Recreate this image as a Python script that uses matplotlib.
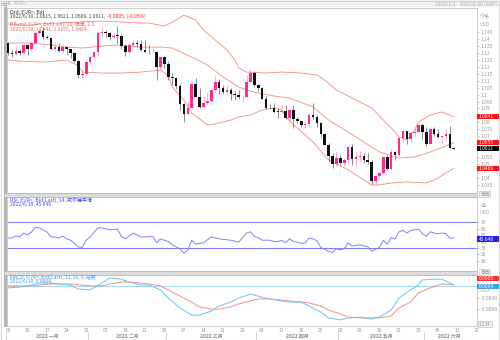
import matplotlib
matplotlib.use("Agg")
import matplotlib.pyplot as plt
import matplotlib.transforms as mtransforms
from matplotlib.patches import Rectangle
import numpy as np

plt.rcParams['font.family'] = ['Noto Sans CJK SC', 'DejaVu Sans']

# EUR= daily candles, weekdays 2022-01-03 .. 2022-06-10
opens = [1.1370, 1.1297, 1.1289, 1.1312, 1.1296,
         1.1359, 1.1326, 1.1368, 1.1442, 1.1455,
         1.1411, 1.1406, 1.1325, 1.1344, 1.1311,
         1.1343, 1.1325, 1.1302, 1.1241, 1.1143,
         1.1146, 1.1234, 1.1271, 1.1303, 1.1442,
         1.1453, 1.1440, 1.1416, 1.1424, 1.1424,
         1.1350, 1.1307, 1.1357, 1.1374, 1.1361,
         1.1322, 1.1307, 1.1307, 1.1308, 1.1197,
         1.1270, 1.1219, 1.1124, 1.1121, 1.1063,
         1.0929, 1.0857, 1.0901, 1.1077, 1.0985,
         1.0912, 1.0942, 1.0955, 1.1036, 1.1093,
         1.1050, 1.1016, 1.1030, 1.1006, 1.0998,
         1.0983, 1.0985, 1.1090, 1.1158, 1.1067,
         1.1045, 1.0970, 1.0904, 1.0904, 1.0877,
         1.0876, 1.0885, 1.0829, 1.0889, 1.0825,
         1.0807, 1.0780, 1.0787, 1.0853, 1.0837,
         1.0797, 1.0714, 1.0640, 1.0557, 1.0498,
         1.0545, 1.0508, 1.0526, 1.0620, 1.0540,
         1.0551, 1.0560, 1.0530, 1.0513, 1.0380,
         1.0411, 1.0437, 1.0553, 1.0464, 1.0586,
         1.0564, 1.0690, 1.0735, 1.0677, 1.0723,
         1.0733, 1.0779, 1.0734, 1.0647, 1.0751,
         1.0718, 1.0695, 1.0700, 1.0715, 1.0615]
highs = [1.1376, 1.1321, 1.1346, 1.1318, 1.1364,
         1.1364, 1.1375, 1.1455, 1.1482, 1.1483,
         1.1429, 1.1409, 1.1368, 1.1369, 1.1363,
         1.1346, 1.1330, 1.1307, 1.1247, 1.1175,
         1.1241, 1.1276, 1.1310, 1.1451, 1.1483,
         1.1467, 1.1447, 1.1449, 1.1495, 1.1438,
         1.1363, 1.1366, 1.1395, 1.1396, 1.1390,
         1.1395, 1.1359, 1.1344, 1.1316, 1.1274,
         1.1277, 1.1243, 1.1155, 1.1125, 1.1076,
         1.0941, 1.0952, 1.1087, 1.1121, 1.1044,
         1.0983, 1.1016, 1.1041, 1.1137, 1.1109,
         1.1067, 1.1071, 1.1045, 1.1025, 1.1034,
         1.0998, 1.1138, 1.1185, 1.1172, 1.1076,
         1.1053, 1.0990, 1.0935, 1.0937, 1.0902,
         1.0933, 1.0926, 1.0899, 1.0923, 1.0837,
         1.0812, 1.0812, 1.0866, 1.0936, 1.0851,
         1.0802, 1.0727, 1.0654, 1.0577, 1.0593,
         1.0564, 1.0542, 1.0630, 1.0641, 1.0584,
         1.0592, 1.0579, 1.0577, 1.0533, 1.0420,
         1.0443, 1.0553, 1.0566, 1.0607, 1.0594,
         1.0697, 1.0749, 1.0738, 1.0738, 1.0765,
         1.0787, 1.0787, 1.0765, 1.0752, 1.0764,
         1.0752, 1.0710, 1.0749, 1.0774, 1.0621]
lows = [1.1283, 1.1272, 1.1285, 1.1285, 1.1290,
        1.1285, 1.1315, 1.1364, 1.1437, 1.1399,
        1.1397, 1.1324, 1.1315, 1.1305, 1.1301,
        1.1282, 1.1263, 1.1234, 1.1121, 1.1121,
        1.1140, 1.1215, 1.1255, 1.1275, 1.1412,
        1.1414, 1.1394, 1.1405, 1.1373, 1.1331,
        1.1280, 1.1302, 1.1343, 1.1343, 1.1314,
        1.1305, 1.1289, 1.1303, 1.1106, 1.1175,
        1.1190, 1.1104, 1.1066, 1.1038, 1.0892,
        1.0806, 1.0853, 1.0900, 1.0985, 1.0905,
        1.0906, 1.0931, 1.0950, 1.1021, 1.1003,
        1.1003, 1.1005, 1.0963, 1.0964, 1.0965,
        1.0945, 1.0982, 1.1085, 1.1057, 1.1029,
        1.0969, 1.0899, 1.0898, 1.0868, 1.0835,
        1.0869, 1.0822, 1.0806, 1.0758, 1.0794,
        1.0770, 1.0757, 1.0768, 1.0822, 1.0764,
        1.0697, 1.0634, 1.0514, 1.0470, 1.0484,
        1.0490, 1.0492, 1.0504, 1.0493, 1.0485,
        1.0518, 1.0509, 1.0502, 1.0354, 1.0349,
        1.0389, 1.0427, 1.0461, 1.0459, 1.0532,
        1.0556, 1.0662, 1.0641, 1.0660, 1.0700,
        1.0732, 1.0682, 1.0627, 1.0643, 1.0702,
        1.0690, 1.0653, 1.0678, 1.0614, 1.0609]
closes = [1.1297, 1.1289, 1.1312, 1.1296, 1.1359,
          1.1326, 1.1368, 1.1442, 1.1455, 1.1411,
          1.1406, 1.1325, 1.1344, 1.1311, 1.1343,
          1.1325, 1.1302, 1.1241, 1.1143, 1.1146,
          1.1234, 1.1271, 1.1303, 1.1442, 1.1453,
          1.1440, 1.1416, 1.1424, 1.1424, 1.1350,
          1.1307, 1.1357, 1.1374, 1.1361, 1.1322,
          1.1307, 1.1307, 1.1308, 1.1197, 1.1270,
          1.1219, 1.1124, 1.1121, 1.1063, 1.0929,
          1.0857, 1.0901, 1.1077, 1.0985, 1.0912,
          1.0942, 1.0955, 1.1036, 1.1093, 1.1050,
          1.1016, 1.1030, 1.1006, 1.0998, 1.0983,
          1.0985, 1.1090, 1.1158, 1.1067, 1.1045,
          1.0970, 1.0904, 1.0904, 1.0877, 1.0876,
          1.0885, 1.0829, 1.0889, 1.0825, 1.0807,
          1.0780, 1.0787, 1.0853, 1.0837, 1.0797,
          1.0714, 1.0640, 1.0557, 1.0498, 1.0545,
          1.0508, 1.0526, 1.0620, 1.0540, 1.0551,
          1.0560, 1.0530, 1.0513, 1.0380, 1.0411,
          1.0437, 1.0553, 1.0464, 1.0586, 1.0564,
          1.0690, 1.0735, 1.0677, 1.0723, 1.0733,
          1.0779, 1.0734, 1.0647, 1.0751, 1.0718,
          1.0695, 1.0700, 1.0715, 1.0616, 1.0611]

# Bollinger band (20, 2.0): (day index, price)
bb_up_day = [0, 3, 6, 8, 13, 18, 24, 29, 34, 36, 40, 43, 45, 48, 50, 53, 56, 58, 59,
             61, 66, 70, 75, 79, 81, 84, 89, 93, 96, 98, 100, 102, 104, 105, 108, 111, 114]
bb_upper = [1.1508, 1.1500, 1.1500, 1.1508, 1.1515, 1.1522, 1.1529, 1.1522, 1.1515, 1.1515,
            1.1493, 1.1536, 1.1572, 1.1536, 1.1464, 1.1392, 1.1321, 1.1249, 1.1191,
            1.1162, 1.1155, 1.1162, 1.1155, 1.1141, 1.1105, 1.1033, 1.0961, 1.0904,
            1.0817, 1.0760, 1.0695, 1.0673, 1.0745, 1.0803, 1.0853, 1.0875, 1.0841]
bb_mid_day = [0, 6, 11, 15, 19, 24, 28, 34, 39, 42, 47, 51, 55, 59, 61, 64, 68, 72, 78,
              82, 87, 91, 95, 99, 100, 104, 108, 112, 114]
bb_mid = [1.1371, 1.1371, 1.1357, 1.1342, 1.1335, 1.1349, 1.1357, 1.1342, 1.1342, 1.1335,
          1.1270, 1.1213, 1.1126, 1.1055, 1.1033, 1.1011, 1.0990, 1.0975, 1.0911,
          1.0817, 1.0731, 1.0659, 1.0587, 1.0551, 1.0544, 1.0551, 1.0587, 1.0630, 1.0655]
bb_lo_day = [0, 3, 9, 15, 18, 19, 24, 29, 34, 39, 41, 42, 45, 47, 51, 53, 57, 59, 62, 65,
             68, 70, 72, 78, 82, 87, 91, 93, 95, 98, 102, 107, 110, 112, 114]
bb_lower = [1.1249, 1.1241, 1.1234, 1.1249, 1.1206, 1.1162, 1.1155, 1.1155, 1.1162, 1.1177,
            1.1134, 1.1055, 1.0961, 1.0868, 1.0781, 1.0789, 1.0817, 1.0839, 1.0853, 1.0889,
            1.0904, 1.0889, 1.0810, 1.0659, 1.0530, 1.0458, 1.0386, 1.0350, 1.0350,
            1.0364, 1.0372, 1.0364, 1.0400, 1.0436, 1.0469]

# RSI(14)
rsi_day = [0, 1, 2, 3, 4, 5, 6, 7, 8, 10, 11, 12, 13, 14, 15, 16, 18, 19, 20, 21, 23, 24,
           26, 28, 29, 30, 32, 34, 35, 37, 38, 39, 41, 42, 44, 45, 46, 47, 48, 50, 52, 54,
           57, 59, 61, 62, 63, 64, 65, 66, 67, 68, 69, 70, 71, 72, 73, 74, 75, 76, 77, 78,
           79, 80, 81, 82, 83, 84, 85, 86, 87, 88, 89, 90, 91, 92, 93, 94, 95, 96, 97, 98,
           99, 100, 101, 102, 103, 104, 105, 106, 107, 108, 109, 110, 111, 112, 113, 114]
rsi_val = [45.4, 45.4, 48.5, 47, 53, 50, 54.6, 62, 61, 54.6, 47, 47, 45.4, 48.5, 44, 42,
           31.5, 31, 42, 47, 61, 61, 58, 59, 48, 44, 53, 47, 47, 48, 38, 44, 40, 35, 28.5,
           22, 27, 42, 36, 38, 47, 44, 42, 39, 53, 55, 48, 46, 42, 42, 42, 40, 40, 42, 38,
           44, 40, 39, 37, 38, 45, 44, 41, 31, 28, 25, 23, 29, 27, 29, 38, 33, 34, 35, 33,
           32, 25, 28, 31, 42, 36, 46, 44, 55, 57, 53, 57, 58, 59, 52, 48, 55, 53, 52, 53,
           52, 45, 45.64]

# MACD(12, 26, 9)
macd_day = [0, 3, 6, 8, 11, 13, 16, 18, 21, 24, 26, 29, 31, 34, 36, 39, 41, 44, 47, 49,
            52, 54, 57, 59, 62, 64, 67, 70, 72, 75, 77, 80, 82, 85, 87, 90, 93, 95, 98, 100,
            103, 105, 106, 109, 111, 113, 114]
macd_val = [-0.0006, -0.0003, 0.0004, 0.0011, 0.0011, 0.0008, 0.0004, -0.0010, -0.0013, 0.0011,
            0.0029, 0.0025, 0.0015, 0.0004, 0.0004, -0.0013, -0.0042, -0.0077, -0.0102, -0.0102,
            -0.0088, -0.0070, -0.0056, -0.0042, -0.0028, -0.0035, -0.0045, -0.0052, -0.0056, -0.0056,
            -0.0070, -0.0091, -0.0112, -0.0119, -0.0112, -0.0109, -0.0116, -0.0109, -0.0084, -0.0042,
            -0.0013, 0.0004, 0.0022, 0.0025, 0.0025, 0.0012, 0.0004]
sig_day = [0, 6, 11, 16, 21, 24, 26, 29, 31, 34, 36, 39, 41, 44, 47, 49, 52, 54, 57, 59,
           62, 64, 67, 70, 72, 75, 77, 80, 82, 85, 87, 90, 93, 95, 98, 100, 103, 105, 108,
           111, 114]
sig_val = [0.0001, 0.0001, 0.0008, 0.0008, 0.0001, 0.0001, 0.0008, 0.0015, 0.0015, 0.0011,
           0.0008, 0.0001, -0.0013, -0.0035, -0.0056, -0.0073, -0.0081, -0.0081, -0.0073, -0.0063,
           -0.0052, -0.0045, -0.0045, -0.0049, -0.0052, -0.0056, -0.0059, -0.0070, -0.0084, -0.0098,
           -0.0109, -0.0112, -0.0112, -0.0112, -0.0105, -0.0077, -0.0056, -0.0024, -0.0006,
           0.0008, 0.0005]

# x axis: Mondays (day index) and months
week_days = [0, 5, 10, 15, 20, 25, 30, 35, 40, 45, 50, 55, 60, 65, 70, 75, 80, 85, 90,
             95, 100, 105, 110, 115, 120]
week_labels = ['03', '10', '17', '24', '31', '07', '14', '21', '28', '07', '14', '21', '28',
               '04', '11', '18', '25', '02', '09', '16', '23', '30', '06', '13', '20']
month_start = [0, 21, 41, 64, 85, 107]
month_labels = ['2022 一月', '2022 二月', '2022 三月', '2022 四月', '2022 五月', '2022 六月']

# price labels left visible (the rest sit under the value tags)
price_ticks = [1.035, 1.04, 1.05, 1.055, 1.07, 1.075, 1.08, 1.09,
               1.095, 1.1, 1.105, 1.11, 1.115, 1.12, 1.125, 1.13, 1.135, 1.14, 1.145]
rsi_ticks = [10, 20, 30, 40, 50, 60, 70]
macd_ticks = [-0.008, -0.004]
macd_tick_labels = ['-0.0080', '-0.0040']

W, H = 500, 340
BB_C = '#f38b80'
RSI_C = '#8282f5'
MACD_C = '#6cc3f5'
SIG_C = '#f39088'
UP_C = '#ff2a8a'


def rect(x0, y0, x1, y1):
    return [x0 / W, 1 - y1 / H, (x1 - x0) / W, (y1 - y0) / H]


def fx(x):
    return x / W


def fy(y):
    return 1 - y / H


fig = plt.figure(figsize=(5, 3.4), dpi=100)
fig.patch.set_facecolor('white')

# frame bits
fig.patches.append(Rectangle((0, fy(7)), 1, 7 / H, transform=fig.transFigure,
                             facecolor='#f2f2f2', edgecolor='none', zorder=0))
fig.patches.append(Rectangle((fx(3.5), fy(327)), 3.5 / W, 320 / H, transform=fig.transFigure,
                             facecolor='#b4b4b4', edgecolor='none', zorder=0))
for y0, y1 in [(193, 197), (271, 275)]:
    fig.patches.append(Rectangle((fx(3.5), fy(y1)), (477 - 3.5) / W, (y1 - y0) / H,
                                 transform=fig.transFigure, facecolor='#dcdcdc',
                                 edgecolor='#b0b0b0', linewidth=0.4, zorder=0))
fig.patches.append(Rectangle((0.001, 0.001), 0.997, 0.997, transform=fig.transFigure,
                             facecolor='none', edgecolor='#d8d8d8', linewidth=0.8, zorder=0))

ax_p = fig.add_axes(rect(7, 8, 477, 193))
ax_r = fig.add_axes(rect(7, 197, 477, 271))
ax_m = fig.add_axes(rect(7, 275, 477, 326))

for ax in (ax_p, ax_r, ax_m):
    ax.set_xlim(-0.26, 119.95)
    ax.yaxis.tick_right()
    ax.tick_params(axis='y', labelsize=3.6, colors='#9a9a9a', length=1.5, width=0.4, pad=1)
    ax.tick_params(axis='x', length=0)
    for s in ax.spines.values():
        s.set_color('#c4c4c4')
        s.set_linewidth(0.6)
    ax.set_facecolor('white')

# --- price panel ---
ax_p.set_ylim(1.0292, 1.1623)
ax_p.set_yticks(price_ticks)
ax_p.set_yticklabels(['%g' % t for t in price_ticks])
ax_p.set_xticks([])

xs = np.arange(len(closes))
o = np.array(opens)
c = np.array(closes)
h = np.array(highs)
l = np.array(lows)
up = c > o
ax_p.vlines(xs[up], l[up], h[up], color='#ff8cc0', linewidth=0.5, zorder=2)
ax_p.vlines(xs[~up], l[~up], h[~up], color='#606060', linewidth=0.5, zorder=2)
ax_p.bar(xs, np.maximum(np.abs(c - o), 0.0003), bottom=np.minimum(o, c), width=0.66,
         color=np.where(up, UP_C, '#111111'), linewidth=0, zorder=3)

ax_p.plot(bb_up_day, bb_upper, color=BB_C, lw=0.6, zorder=1)
ax_p.plot(bb_mid_day, bb_mid, color=BB_C, lw=0.6, zorder=1)
ax_p.plot(bb_lo_day, bb_lower, color=BB_C, lw=0.6, zorder=1)

# --- RSI panel ---
ax_r.set_ylim(-5.4, 108.5)
ax_r.set_yticks(rsi_ticks)
ax_r.set_xticks([])
ax_r.axhline(70, color=RSI_C, lw=0.8)
ax_r.axhline(30, color=RSI_C, lw=0.8)
ax_r.plot(rsi_day, rsi_val, color=RSI_C, lw=0.7)

# --- MACD panel ---
ax_m.set_ylim(-0.01406, 0.00396)
ax_m.set_yticks(macd_ticks)
ax_m.set_yticklabels(macd_tick_labels)
ax_m.axhline(0, color='#a6d8f7', lw=0.8)
ax_m.plot(sig_day, sig_val, color=SIG_C, lw=0.7)
ax_m.plot(macd_day, macd_val, color=MACD_C, lw=0.7)
ax_m.set_xticks(week_days)
ax_m.set_xticklabels(week_labels)
ax_m.tick_params(axis='x', labelsize=3.6, colors='#9a9a9a', pad=1.2)

trans_m = mtransforms.blended_transform_factory(ax_m.transData, ax_m.transAxes)
month_bounds = month_start + [120]
for k, lab in enumerate(month_labels):
    lo = month_bounds[k]
    hi = min(month_bounds[k + 1], 119.95)
    ax_m.text((lo + hi) / 2 - 0.5, -0.2, lab, transform=trans_m, fontsize=3.6,
              color='#8a8a8a', ha='center', va='center', fontweight='bold')
    ax_m.vlines(lo - 0.5, -0.12, -0.27, transform=trans_m, color='#c0c0c0', lw=0.5,
                clip_on=False)


# right-side value tags
def tag(ax, val, text, fc, dy=0.0):
    ylo, yhi = ax.get_ylim()
    per_px = (yhi - ylo) / (ax.get_position().height * H)
    tr = mtransforms.blended_transform_factory(ax.transAxes, ax.transData)
    yc = val + dy * per_px
    w_ax = 23 / (ax.get_position().width * W)
    ax.add_patch(Rectangle((1.0, yc - 2.7 * per_px), w_ax, 5.4 * per_px, transform=tr,
                           facecolor=fc, edgecolor='none', clip_on=False, zorder=5))
    ax.text(1.004, yc, text, transform=tr, fontsize=3.5, color='white', va='center',
            ha='left', clip_on=False, zorder=6)


tag(ax_p, bb_upper[-1], '1.0841', '#ff1010')
tag(ax_p, bb_mid[-1], '1.0655', '#ff1010')
tag(ax_p, closes[-1], '1.0611', '#000000')
tag(ax_p, bb_lower[-1], '1.0469', '#ff1010')
tag(ax_r, rsi_val[-1], '45.640', '#2020f0', dy=-1.2)
tag(ax_m, sig_val[-1], '0.0005', '#ff3030', dy=6.5)
tag(ax_m, macd_val[-1], '0.0004', '#2fa4f0', dy=-1.5)

# axis captions / buttons
cap = dict(fontsize=3.6, color='#a8a8a8', ha='left', va='center')
fig.text(fx(480), fy(17), '价格', **cap)
fig.text(fx(480), fy(24), 'USD', **cap)
fig.text(fx(481), fy(206), '值', **cap)
fig.text(fx(480), fy(213), 'USD', **cap)
fig.text(fx(480), fy(291), 'USD', **cap)
btn = dict(fontsize=3.4, color='#909090', ha='left', va='center',
           bbox=dict(boxstyle='square,pad=0.2', fc='#f5f5f5', ec='#b8b8b8', lw=0.4))
fig.text(fx(480), fy(194), '自选', **btn)
fig.text(fx(480), fy(272), '自选', **btn)
fig.text(fx(479), fy(324), '1.234', **btn)

# header strip
fig.text(fx(2), fy(3.8), '每天', fontsize=3.6, color='#b0b0b0', va='center')
fig.text(fx(13), fy(3.8), 'EUR=', fontsize=3.6, color='#b8b8b8', va='center')
fig.text(fx(498), fy(3.8), '2022/1/3 - 2022/6/20 (GMT)', fontsize=3.6, color='#b0b0b0',
         va='center', ha='right')


# legends
def follow(prev, text, color):
    return ax_p.annotate(text, xy=(1, 0.5), xycoords=prev, xytext=(1.5, 0),
                         textcoords='offset points', fontsize=3.6, color=color,
                         va='center', ha='left', annotation_clip=False)


fig.text(fx(10), fy(12.3), 'Ord, EUR=, Bid', fontsize=3.6, color='#333333', va='center')
t = fig.text(fx(10), fy(16.7), '2022/6/10, 1.0615, 1.0621, 1.0609, 1.0611,', fontsize=3.6,
             color='#444444', va='center')
follow(t, '-0.0005, (-0.05%)', '#ff2020')
fig.text(fx(10), fy(24.3), 'BBand, EUR=, Bid(Last), 20, 简单, 2.0', fontsize=3.6,
         color='#f06a60', va='center')
fig.text(fx(10), fy(29.3), '2022/6/10, 1.0841, 1.0655, 1.0469', fontsize=3.6,
         color='#f06a60', va='center')
fig.text(fx(10), fy(200), 'RSI, EUR=, Bid(Last), 14, 威尔德平滑', fontsize=3.6,
         color='#4a4ae8', va='center')
fig.text(fx(10), fy(204.3), '2022/6/10, 45.640', fontsize=3.6, color='#4a4ae8', va='center')
fig.text(fx(10), fy(277.5), 'MACD, EUR=, Bid(Last), 12, 26, 9, 指数', fontsize=3.6,
         color='#3aa0e8', va='center')
t = fig.text(fx(10), fy(281.8), '2022/6/10, 0.0004,', fontsize=3.6, color='#3aa0e8',
             va='center')
follow(t, '0.0005', '#ff3030')

fig.savefig('out.png', dpi=100)
